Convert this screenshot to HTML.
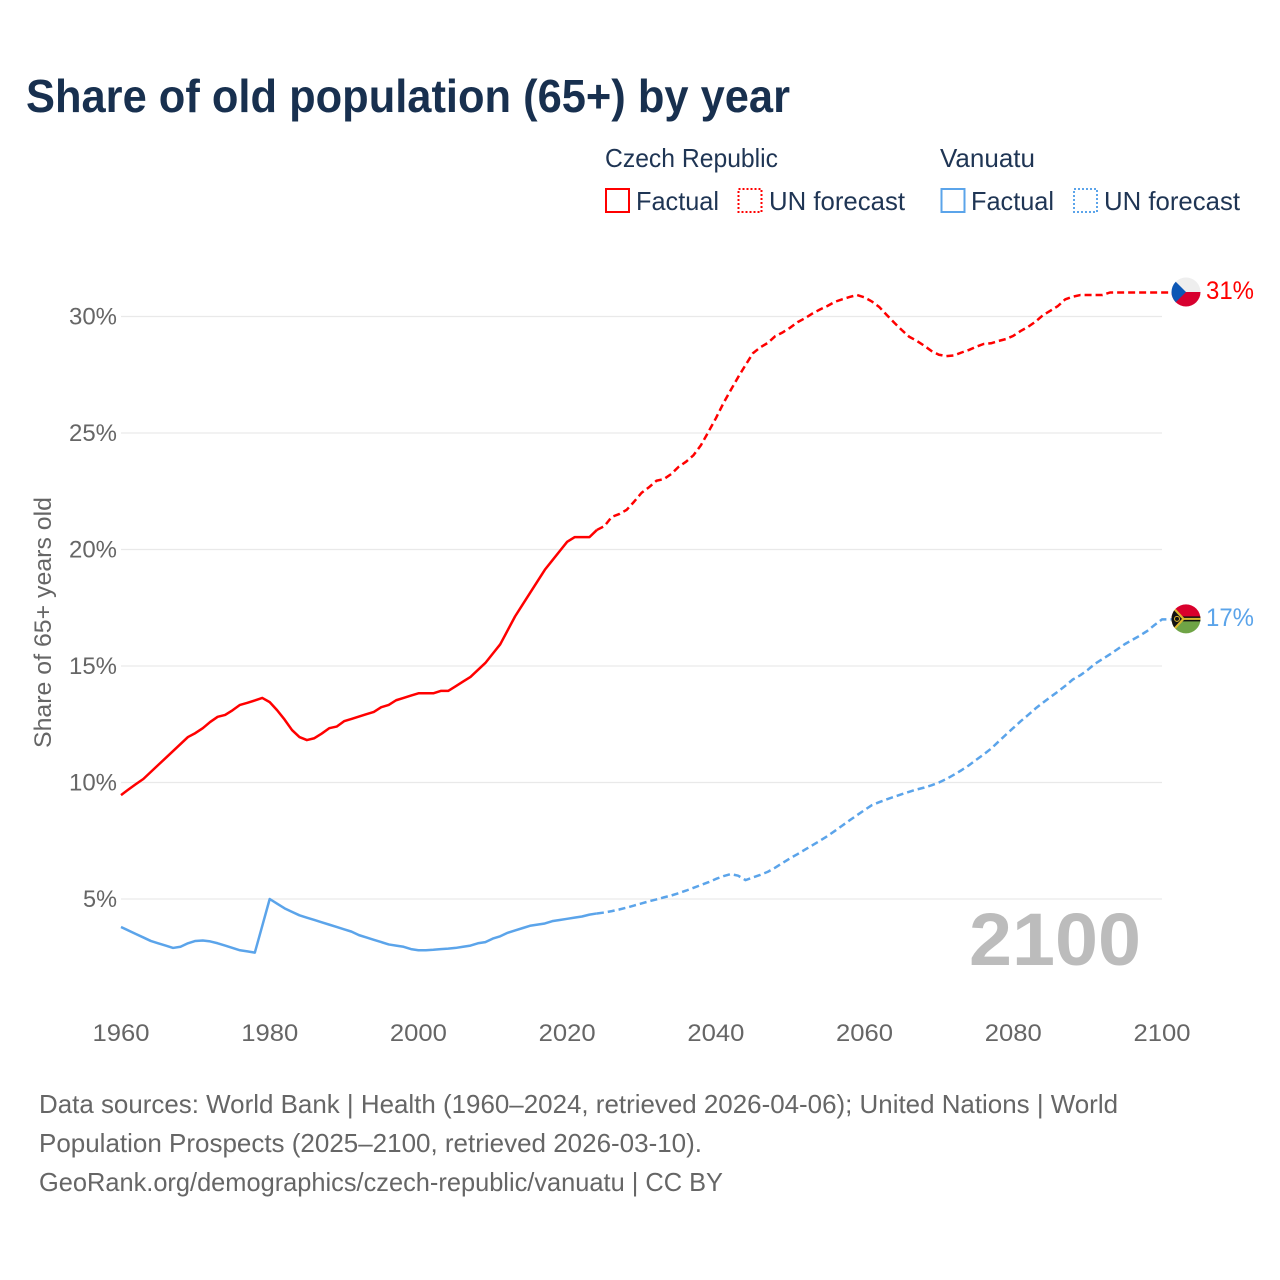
<!DOCTYPE html>
<html lang="en">
<head>
<meta charset="utf-8">
<title>Share of old population (65+) by year</title>
<style>
html,body{margin:0;padding:0;background:#fff;width:1280px;height:1280px;overflow:hidden}
svg{display:block;font-family:"Liberation Sans",sans-serif}
</style>
</head>
<body>
<svg id="chart" xmlns="http://www.w3.org/2000/svg" width="1280" height="1280" viewBox="0 0 1280 1280">
  <defs>
    <clipPath id="flag-clip-a"><circle cx="0" cy="0" r="14.5"/></clipPath>
  </defs>
  <rect width="1280" height="1280" fill="#fff"/>
  <text x="26" y="112" font-size="46" font-weight="700" fill="#18304f" textLength="764" lengthAdjust="spacingAndGlyphs">Share of old population (65+) by year</text>

  <g font-size="26" fill="#1f3554">
    <text x="605" y="167" textLength="173" lengthAdjust="spacingAndGlyphs">Czech Republic</text>
    <text x="940" y="167" textLength="95" lengthAdjust="spacingAndGlyphs">Vanuatu</text>
    <rect x="606" y="189" width="23" height="23" fill="none" stroke="#ff0000" stroke-width="2"/>
    <text x="636" y="210" textLength="83" lengthAdjust="spacingAndGlyphs">Factual</text>
    <rect x="738.5" y="189" width="23" height="23" fill="none" stroke="#ff0000" stroke-width="2" stroke-dasharray="2 2"/>
    <text x="769" y="210" textLength="136" lengthAdjust="spacingAndGlyphs">UN forecast</text>
    <rect x="941.5" y="189" width="23" height="23" fill="none" stroke="#5ba4ea" stroke-width="2"/>
    <text x="971" y="210" textLength="83" lengthAdjust="spacingAndGlyphs">Factual</text>
    <rect x="1074" y="189" width="23" height="23" fill="none" stroke="#5ba4ea" stroke-width="2" stroke-dasharray="2 2"/>
    <text x="1104" y="210" textLength="136" lengthAdjust="spacingAndGlyphs">UN forecast</text>
  </g>

  <g id="grid"></g>
  <g id="y-ticks" font-size="24.5" fill="#666"></g>
  <g id="x-ticks" font-size="24.5" fill="#666"></g>
  <text transform="translate(51,748) rotate(-90)" font-size="24.5" fill="#666" textLength="251" lengthAdjust="spacingAndGlyphs">Share of 65+ years old</text>

  <text x="969" y="965" font-size="74" font-weight="700" fill="#bcbcbc" textLength="172" lengthAdjust="spacingAndGlyphs">2100</text>

  <g id="series"></g>

  <g id="flag-czech" clip-path="url(#flag-clip-a)">
    <rect x="-15" y="-15" width="30" height="15" fill="#eeeeee"/>
    <rect x="-15" y="0" width="30" height="15" fill="#d7002f"/>
    <polygon points="-15,-15 0,0 -15,15" fill="#0d57b5"/>
  </g>
  <g id="flag-vanuatu" clip-path="url(#flag-clip-a)">
    <rect x="-15" y="-15" width="30" height="15" fill="#d9002c"/>
    <rect x="-15" y="0" width="30" height="15" fill="#6fa446"/>
    <rect x="-15" y="-2.5" width="30" height="5" fill="#111"/>
    <rect x="-15" y="-1" width="30" height="2" fill="#d9b72e"/>
    <polygon points="-15,-15 -1,0 -15,15" fill="#d9b72e"/>
    <polygon points="-15,-12 -4,0 -15,12" fill="#111"/>
    <circle cx="-9" cy="0" r="2.5" fill="none" stroke="#d9b72e" stroke-width="1"/>
  </g>
  <text id="label-czech" x="1206" y="299" font-size="25" fill="#ff0000" textLength="48" lengthAdjust="spacingAndGlyphs"></text>
  <text id="label-vanuatu" x="1206" y="626" font-size="25" fill="#5ba4ea" textLength="48" lengthAdjust="spacingAndGlyphs"></text>

  <g font-size="26" fill="#666">
    <text x="39" y="1113" textLength="1079" lengthAdjust="spacingAndGlyphs">Data sources: World Bank | Health (1960–2024, retrieved 2026-04-06); United Nations | World</text>
    <text x="39" y="1152" textLength="663" lengthAdjust="spacingAndGlyphs">Population Prospects (2025–2100, retrieved 2026-03-10).</text>
    <text x="39" y="1191" textLength="684" lengthAdjust="spacingAndGlyphs">GeoRank.org/demographics/czech-republic/vanuatu | CC BY</text>
  </g>
</svg>
<script>
var xTickLabels = [1960, 1980, 2000, 2020, 2040, 2060, 2080, 2100];
var yTickLabels = [5, 10, 15, 20, 25, 30];
var factualStartYear = 1960;
var forecastStartYear = 2024;
var czechFactual = [9.46,9.7,9.93,10.15,10.45,10.75,11.05,11.35,11.65,11.95,12.12,12.33,12.6,12.82,12.9,13.1,13.33,13.42,13.52,13.63,13.45,13.1,12.7,12.25,11.95,11.82,11.9,12.1,12.33,12.4,12.63,12.73,12.83,12.93,13.03,13.23,13.33,13.53,13.63,13.73,13.83,13.83,13.83,13.93,13.93,14.13,14.33,14.53,14.83,15.13,15.53,15.93,16.53,17.13,17.63,18.13,18.63,19.13,19.53,19.93,20.33,20.53,20.53,20.53,20.84];
var czechForecast = [20.84,
  21.0,21.4,21.52,21.7,22.05,
  22.43,22.67,22.95,23.02,23.24,23.55,23.77,24.05,24.48,25.05,
  25.63,26.27,26.84,27.4,27.92,28.43,28.68,28.87,29.16,29.32,
  29.52,29.76,29.93,30.13,30.3,30.45,30.63,30.74,30.84,30.92,
  30.82,30.64,30.4,30.06,29.73,29.42,29.13,28.96,28.75,28.52,
  28.36,28.3,28.33,28.45,28.56,28.7,28.82,28.85,28.95,29.03,
  29.17,29.38,29.56,29.78,30.06,30.25,30.45,30.74,30.85,30.92,
  30.92,30.92,30.92,31.03,31.03,31.03,31.03,31.03,31.03,31.03,
  31.03];
var vanuatuFactual = [3.8,3.65,3.5,3.35,3.2,3.1,3.0,2.9,2.95,3.1,3.2,3.22,3.18,3.1,3.0,2.9,2.8,2.75,2.7,3.85,5.0,4.8,4.6,4.45,4.3,4.2,4.1,4.0,3.9,3.8,3.7,3.6,3.45,3.35,3.25,3.15,3.05,3.0,2.95,2.85,2.8,2.8,2.82,2.85,2.87,2.9,2.95,3.0,3.1,3.15,3.3,3.4,3.55,3.65,3.75,3.85,3.9,3.95,4.05,4.1,4.15,4.2,4.25,4.33,4.38];
var vanuatuForecast = [4.38,
  4.42,4.48,4.55,4.63,4.72,
  4.81,4.9,4.98,5.07,5.15,5.25,5.36,5.48,5.6,5.72,
  5.86,5.98,6.07,6.0,5.81,5.93,6.04,6.17,6.35,6.55,
  6.75,6.93,7.12,7.31,7.5,7.7,7.92,8.15,8.38,8.6,
  8.82,9.03,9.16,9.28,9.39,9.5,9.6,9.7,9.78,9.88,
  10.0,10.15,10.33,10.52,10.73,10.97,11.2,11.45,11.75,12.05,
  12.34,12.63,12.9,13.18,13.43,13.67,13.9,14.15,14.42,14.6,
  14.83,15.1,15.3,15.5,15.72,15.94,16.12,16.3,16.5,16.76,
  17.0];
var NS = 'http://www.w3.org/2000/svg';
function xScale(year){ return 121 + (year - 1960) * (1162 - 121) / 140; }
function yScale(val){ return 1015.5 - val * 23.3; }
function make(tag, attrs, parent, text){
  var el = document.createElementNS(NS, tag);
  for (var k in attrs) el.setAttribute(k, attrs[k]);
  if (text !== undefined) el.textContent = text;
  parent.appendChild(el);
  return el;
}
var gridG = document.getElementById('grid');
var yG = document.getElementById('y-ticks');
var xG = document.getElementById('x-ticks');
var seriesG = document.getElementById('series');
yTickLabels.forEach(function(v){
  var line = make('line', {x1:121, x2:1162, y1:yScale(v), y2:yScale(v), stroke:'#e9e9e9', 'stroke-width':1.2}, gridG);
  
  
  var t = make('text', {x:117, y:yScale(v) + 8, 'text-anchor':'end', textLength: v < 10 ? 34 : 48, lengthAdjust:'spacingAndGlyphs'}, yG, v + '%');
  
  
});
xTickLabels.forEach(function(y){
  var t = make('text', {x:xScale(y), y:1041, 'text-anchor':'middle', textLength:57, lengthAdjust:'spacingAndGlyphs'}, xG, y);
  
  
});
function drawLine(values, startYear, color, dashed, name, extend){
  var pts = values.map(function(v, i){ return xScale(startYear + i).toFixed(2) + ',' + yScale(v).toFixed(2); });
  if (extend) {
    pts.push((xScale(startYear + values.length - 1) + 24).toFixed(2) + ',' + yScale(values[values.length - 1]).toFixed(2));
  }
  var attrs = {points: pts.join(' '), fill:'none', stroke:color, 'stroke-width':2.5, 'stroke-linejoin':'round'};
  if (dashed) attrs['stroke-dasharray'] = '7 4';
  var el = make('polyline', attrs, seriesG);
  
  
}
drawLine(czechFactual, factualStartYear, '#ff0000', false, 'line-czech-factual', false);
drawLine(czechForecast, forecastStartYear, '#ff0000', true, 'line-czech-forecast', true);
drawLine(vanuatuFactual, factualStartYear, '#5ba4ea', false, 'line-vanuatu-factual', false);
drawLine(vanuatuForecast, forecastStartYear, '#5ba4ea', true, 'line-vanuatu-forecast', true);
var czLast = czechForecast[czechForecast.length - 1];
var vuLast = vanuatuForecast[vanuatuForecast.length - 1];
document.getElementById('flag-czech').setAttribute('transform', 'translate(1186,' + (yScale(czLast) - 0.5) + ')');
document.getElementById('flag-vanuatu').setAttribute('transform', 'translate(1186,' + (yScale(vuLast) - 0.5) + ')');
var lc = document.getElementById('label-czech');
lc.textContent = Math.round(czLast) + '%';
lc.setAttribute('y', yScale(czLast) + 6.5);
var lv = document.getElementById('label-vanuatu');
lv.textContent = Math.round(vuLast) + '%';
lv.setAttribute('y', yScale(vuLast) + 6.5);
</script>
</body>
</html>
